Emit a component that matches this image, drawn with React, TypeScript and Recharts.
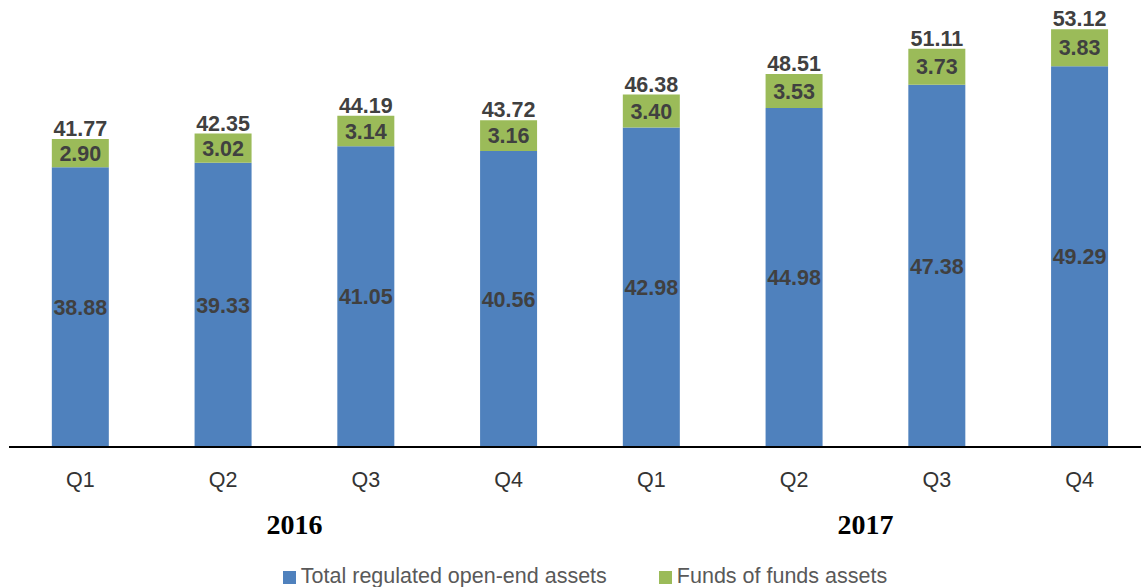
import React from 'react';
import { BarChart, Bar, XAxis, YAxis, LabelList, Legend } from 'recharts';

const quarters = ['Q1', 'Q2', 'Q3', 'Q4', 'Q1', 'Q2', 'Q3', 'Q4'];
const years = ['2016', '2016', '2016', '2016', '2017', '2017', '2017', '2017'];
const regulatedAssets = [38.88, 39.33, 41.05, 40.56, 42.98, 44.98, 47.38, 49.29];
const fundsOfFunds = [2.9, 3.02, 3.14, 3.16, 3.4, 3.53, 3.73, 3.83];
const totals = [41.77, 42.35, 44.19, 43.72, 46.38, 48.51, 51.11, 53.12];

const seriesNames = ['Total regulated open-end assets', 'Funds of funds assets'];
const BLUE = '#4F81BD';
const GREEN = '#9BBB59';

const data = quarters.map((q, i) => ({
  quarter: q,
  year: years[i],
  regulated: regulatedAssets[i],
  fof: fundsOfFunds[i],
  total: totals[i],
}));

const fmt = (v: any) => Number(v).toFixed(2);

const labelStyle = {
  fill: '#404040',
  fontFamily: '"Liberation Sans", Arial, sans-serif',
  fontWeight: 700,
  fontSize: 21.5,
};

const LegendContent = () => (
  <div
    style={{
      display: 'flex',
      justifyContent: 'center',
      alignItems: 'flex-end',
      height: 42,
      paddingLeft: 10,
      boxSizing: 'border-box',
      fontFamily: '"Liberation Sans", Arial, sans-serif',
      fontSize: 21.5,
      color: '#595959',
      lineHeight: '22px',
    }}
  >
    {[BLUE, GREEN].map((c, i) => (
      <div key={i} style={{ display: 'flex', alignItems: 'center', marginRight: i === 0 ? 52 : 0 }}>
        <span style={{ display: 'inline-block', width: 13, height: 13, background: c, marginRight: 5, marginTop: 2 }} />
        <span>{seriesNames[i]}</span>
      </div>
    ))}
  </div>
);

export default function App() {
  return (
    <div style={{ position: 'absolute', left: 0, top: 0, width: 1141, height: 587, overflow: 'hidden', background: '#fff' }}>
      <BarChart
        width={1151}
        height={587}
        data={data}
        margin={{ top: 11, right: 0, left: 9, bottom: 0 }}
        barCategoryGap="30%"
      >
        <YAxis hide type="number" domain={[10, 55]} allowDataOverflow />
        <XAxis
          dataKey="quarter"
          xAxisId={0}
          height={60}
          tickLine={false}
          tickSize={0}
          tickMargin={25}
          axisLine={{ stroke: '#000', strokeWidth: 2 }}
          tick={{ fill: '#333', fontSize: 21.5, fontFamily: '"Liberation Sans", Arial, sans-serif' }}
        />
        <XAxis
          xAxisId="year"
          dataKey="year"
          type="category"
          allowDuplicatedCategory={false}
          height={38}
          tickLine={false}
          tickSize={0}
          tickMargin={7}
          axisLine={false}
          interval={0}
          tick={{ fill: '#000', fontSize: 28, fontWeight: 700, fontFamily: '"Liberation Serif", "Times New Roman", serif' }}
        />
        <Legend verticalAlign="bottom" content={<LegendContent />} />
        <Bar dataKey="regulated" name={seriesNames[0]} stackId="a" fill={BLUE} isAnimationActive={false}>
          <LabelList dataKey="regulated" position="center" formatter={fmt} {...labelStyle} />
        </Bar>
        <Bar dataKey="fof" name={seriesNames[1]} stackId="a" fill={GREEN} isAnimationActive={false}>
          <LabelList dataKey="fof" position="center" formatter={fmt} {...labelStyle} />
          <LabelList dataKey="total" position="top" offset={3} formatter={fmt} {...labelStyle} />
        </Bar>
      </BarChart>
    </div>
  );
}
